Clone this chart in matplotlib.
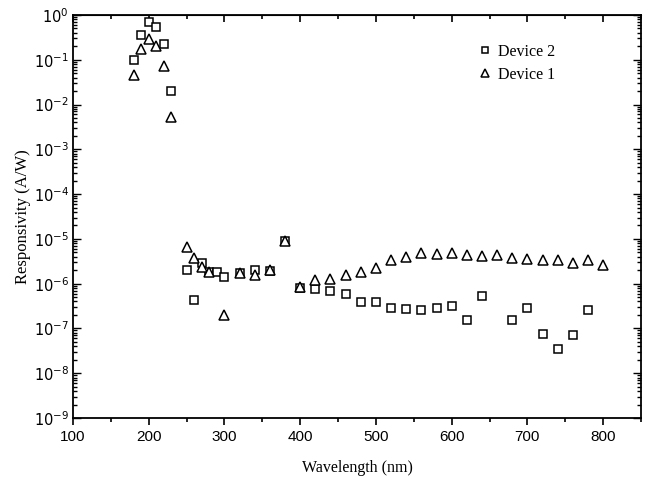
import matplotlib
matplotlib.use("Agg")
import matplotlib.pyplot as plt
from matplotlib.ticker import MultipleLocator, LogLocator, NullFormatter, FixedLocator

# 데이터
wl_dev2 = [180, 190, 200, 210, 220, 230,
           250, 260, 270, 280, 290, 300, 320, 340, 360, 380, 400,
           420, 440, 460, 480, 500, 520, 540, 560, 580, 600, 620, 640,
           680, 700, 720, 740, 760, 780]
resp_dev2 = [0.10, 0.35, 0.70, 0.55, 0.22, 0.020,
             2.0e-6, 4.3e-7, 2.9e-6, 1.8e-6, 1.8e-6, 1.4e-6, 1.7e-6, 2.0e-6, 1.9e-6, 9.0e-6, 8.1e-7,
             7.5e-7, 6.9e-7, 6.0e-7, 3.9e-7, 3.8e-7, 2.8e-7, 2.7e-7, 2.6e-7, 2.9e-7, 3.1e-7, 1.56e-7, 5.4e-7,
             1.56e-7, 2.8e-7, 7.7e-8, 3.5e-8, 7.1e-8, 2.6e-7]

wl_dev1 = [180, 190, 200, 210, 220, 230,
           250, 260, 270, 280, 300, 320, 340, 360, 380, 400,
           420, 440, 460, 480, 500, 520, 540, 560, 580, 600, 620, 640,
           660, 680, 700, 720, 740, 760, 780, 800]
resp_dev1 = [0.046, 0.17, 0.29, 0.20, 0.073, 0.0053,
             6.5e-6, 3.8e-6, 2.3e-6, 1.8e-6, 2.0e-7, 1.7e-6, 1.6e-6, 2.0e-6, 9.1e-6, 8.3e-7,
             1.2e-6, 1.3e-6, 1.6e-6, 1.8e-6, 2.2e-6, 3.3e-6, 4.0e-6, 4.8e-6, 4.6e-6, 4.8e-6, 4.4e-6, 4.2e-6,
             4.4e-6, 3.8e-6, 3.6e-6, 3.4e-6, 3.3e-6, 2.9e-6, 3.3e-6, 2.6e-6]

y_exps = list(range(0, -10, -1))
y_ticklabels = [f"$\\mathregular{{10^{{{e}}}}}$" for e in y_exps]

plt.rcParams['mathtext.fontset'] = 'custom'
plt.rcParams['mathtext.rm'] = 'Liberation Sans'
plt.rcParams['mathtext.it'] = 'Liberation Sans'
plt.rcParams['axes.unicode_minus'] = False

fig = plt.figure(figsize=(6.53, 4.79), dpi=100)
ax = fig.add_axes([73 / 653, 61 / 479, 568 / 653, 403 / 479])

ax.semilogy(wl_dev2, resp_dev2, linestyle='none', marker='s', markersize=5.5,
            markerfacecolor='white', markeredgecolor='black', markeredgewidth=1.1,
            label='Device 2')
ax.semilogy(wl_dev1, resp_dev1, linestyle='none', marker='^', markersize=7,
            markerfacecolor='white', markeredgecolor='black', markeredgewidth=1.1,
            label='Device 1')

ax.set_xlim(100, 850)
ax.set_ylim(1e-9, 1)

ax.set_xticks(range(100, 900, 100))
ax.set_xticklabels([str(v) for v in range(100, 900, 100)], fontfamily='Liberation Sans', fontsize=11)
ax.xaxis.set_minor_locator(MultipleLocator(50))

ax.yaxis.set_major_locator(FixedLocator([10.0 ** e for e in y_exps]))
ax.set_yticklabels(y_ticklabels, fontsize=10.5)
ax.yaxis.set_minor_locator(LogLocator(base=10, subs=range(2, 10), numticks=20))
ax.yaxis.set_minor_formatter(NullFormatter())

ax.tick_params(axis='x', which='both', direction='out', top=False, width=1.2)
ax.tick_params(axis='x', which='major', length=5)
ax.tick_params(axis='x', which='minor', length=3)
ax.tick_params(axis='y', which='both', direction='in', right=True, width=1.0, pad=3)
ax.tick_params(axis='y', which='major', length=6)
ax.tick_params(axis='y', which='minor', length=3)

# 위쪽 축 눈금 (안쪽)
ax_top = ax.secondary_xaxis('top')
ax_top.xaxis.set_major_locator(MultipleLocator(100))
ax_top.xaxis.set_minor_locator(MultipleLocator(50))
ax_top.tick_params(which='both', direction='in', labeltop=False, width=1.2)
ax_top.tick_params(which='major', length=5)
ax_top.tick_params(which='minor', length=3)

for sp in ax.spines.values():
    sp.set_linewidth(1.3)

ax.set_xlabel('Wavelength (nm)', fontfamily='Liberation Serif', fontsize=11.5, labelpad=12)
ax.set_ylabel('Responsivity (A/W)', fontfamily='Liberation Serif', fontsize=12)
ax.yaxis.set_label_coords(-0.074, 0.5)

ax.legend(loc='upper left', bbox_to_anchor=(0.70, 0.945), frameon=False,
          prop={'family': 'Liberation Serif', 'size': 11.5}, markerscale=0.8,
          handlelength=1.0, handletextpad=0.3, labelspacing=0.45, borderaxespad=0)

fig.savefig('out.png', dpi=100)
